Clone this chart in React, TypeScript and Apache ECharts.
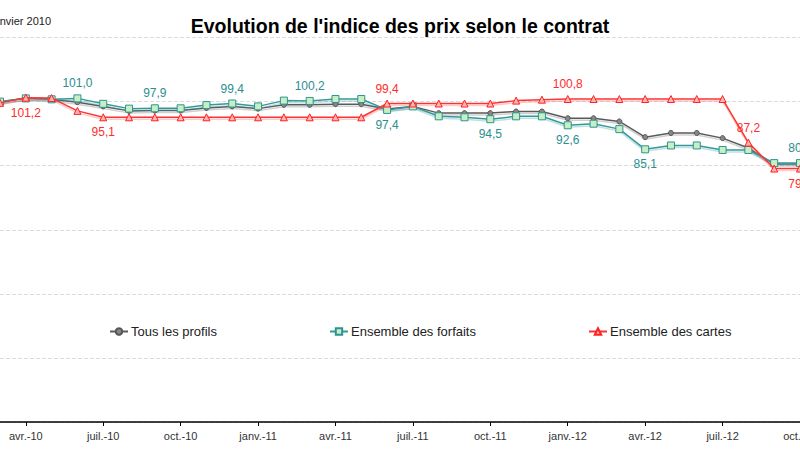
import React, { useEffect, useRef } from "react";
import * as echarts from "echarts";

const categories = [
  "mars-10", "avr.-10", "mai-10", "juin-10", "juil.-10", "août-10", "sept.-10", "oct.-10", "nov.-10", "déc.-10",
  "janv.-11", "févr.-11", "mars-11", "avr.-11", "mai-11", "juin-11", "juil.-11", "août-11", "sept.-11", "oct.-11", "nov.-11", "déc.-11",
  "janv.-12", "févr.-12", "mars-12", "avr.-12", "mai-12", "juin-12", "juil.-12", "août-12", "sept.-12", "oct.-12",
];

const tousLesProfils = [
  99.9, 101.1, 100.7, 99.8, 98.5, 97.1, 97.2, 97.2, 98.0, 98.5,
  97.8, 99.0, 99.0, 99.2, 99.2, 97.7, 98.5, 96.4, 96.4, 96.4, 96.9, 96.9,
  94.8, 94.8, 93.8, 88.9, 90.2, 90.2, 88.6, 85.5, 80.5, 80.5,
];

const forfaits = [
  100.0, 101.0, 100.7, 101.0, 99.3, 97.8, 97.9, 97.9, 98.9, 99.4,
  98.5, 100.3, 100.2, 100.8, 100.8, 97.4, 98.5, 95.4, 95.1, 94.5, 95.4, 95.4,
  92.6, 93.1, 91.4, 85.1, 86.3, 86.3, 84.9, 84.9, 80.8, 80.8,
];

const cartes = [
  99.6, 101.2, 101.1, 97.1, 95.1, 95.1, 95.1, 95.1, 95.1, 95.1,
  95.1, 95.1, 95.1, 95.1, 95.1, 99.4, 99.4, 99.4, 99.4, 99.4, 100.3, 100.6,
  100.8, 100.8, 100.8, 100.8, 100.8, 100.8, 100.8, 87.2, 79.1, 79.1,
];

const forfaitsLabelIdx = [3, 6, 9, 12, 15, 19, 22, 25, 31];
const cartesLabelIdx = [1, 4, 15, 22, 29, 31];

const seriesNames = ["Tous les profils", "Ensemble des forfaits", "Ensemble des cartes"];
const shownMonths = ["janv.", "avr.", "juil.", "oct."];

const fmt = (v: number) => v.toFixed(1).replace(".", ",");

export default function App() {
  const ref = useRef<HTMLDivElement>(null);

  useEffect(() => {
    if (!ref.current) return;
    const chart = echarts.init(ref.current, null, { renderer: "svg" });

    const isShown = (i: number) => shownMonths.some((m) => categories[i].startsWith(m));

    const tealBelow = [15, 19, 22, 25];
    const redBelow = [1, 4, 31];
    const font = "Liberation Sans, Arial, sans-serif";

    const tealData = forfaits.map((v, i) =>
      forfaitsLabelIdx.includes(i)
        ? {
            value: v,
            label: {
              show: true,
              position: tealBelow.includes(i) ? "bottom" : "top",
              distance: 5,
              formatter: () => fmt(v),
              color: "#2a8e8e",
              fontSize: 12,
              fontFamily: font,
            },
          }
        : v
    );
    const redData = cartes.map((v, i) =>
      cartesLabelIdx.includes(i)
        ? {
            value: v,
            label: {
              show: true,
              position: redBelow.includes(i) ? "bottom" : "top",
              distance: 5,
              formatter: () => fmt(v),
              color: "#ff2b2b",
              fontSize: 12,
              fontFamily: font,
            },
          }
        : v
    );

    chart.setOption({
      animation: false,
      backgroundColor: "#ffffff",
      title: {
        text: "Evolution de l'indice des prix selon le contrat",
        left: "center",
        top: 11,
        textStyle: { fontSize: 19.5, fontWeight: "bold", color: "#000", fontFamily: font },
      },
      graphic: [
        {
          type: "text",
          right: 749,
          top: 15,
          style: { text: "Base 100 en janvier 2010", fontSize: 11, fill: "#222", fontFamily: font },
        },
      ],
      legend: {
        data: seriesNames,
        left: 104,
        top: 320,
        itemGap: 112,
        itemWidth: 18,
        itemHeight: 8,
        textStyle: { fontSize: 13, color: "#222", fontFamily: font, padding: [0, 0, 0, -2] },
      },
      grid: { left: 0, right: 0, top: 37.5, bottom: 28, containLabel: false, outerBoundsMode: "none" },
      xAxis: {
        type: "category",
        data: categories,
        boundaryGap: false,
        axisLine: { lineStyle: { color: "#000", width: 1.5 } },
        axisTick: { interval: (i: number) => isShown(i), length: 4, lineStyle: { color: "#000" } },
        axisLabel: {
          interval: (i: number) => isShown(i),
          color: "#333",
          fontSize: 11,
          margin: 8,
          fontFamily: font,
        },
        splitLine: { show: false },
      },
      yAxis: {
        type: "value",
        min: 0,
        max: 120,
        interval: 20,
        axisLine: { show: false },
        axisTick: { show: false },
        axisLabel: { show: false },
        splitLine: { lineStyle: { color: "#dcdcdc", type: "dashed", width: 1 } },
      },
      series: [
        {
          name: seriesNames[0],
          type: "line",
          data: tousLesProfils,
          symbol: "circle",
          symbolSize: 5,
          color: "#666666",
          itemStyle: { color: "#888888", borderColor: "#555555", borderWidth: 1 },
          lineStyle: {
            color: "#5a5a5a",
            width: 1.5,
            shadowColor: "rgba(120,120,120,0.35)",
            shadowBlur: 0,
            shadowOffsetY: 2,
          },
          z: 2,
        },
        {
          name: seriesNames[1],
          type: "line",
          data: tealData,
          symbol: "rect",
          symbolSize: 7,
          color: "#339999",
          itemStyle: { color: "#c8efc4", borderColor: "#2e9393", borderWidth: 1 },
          lineStyle: {
            color: "#339999",
            width: 1.5,
            shadowColor: "rgba(51,153,153,0.3)",
            shadowBlur: 0,
            shadowOffsetY: 2,
          },
          z: 3,
        },
        {
          name: seriesNames[2],
          type: "line",
          data: redData,
          symbol: "triangle",
          symbolSize: 7,
          color: "#ff3333",
          itemStyle: { color: "#ffb3b3", borderColor: "#ff2020", borderWidth: 1 },
          lineStyle: {
            color: "#ff3333",
            width: 1.5,
            shadowColor: "rgba(255,80,80,0.3)",
            shadowBlur: 0,
            shadowOffsetY: 2,
          },
          z: 4,
        },
      ],
    });

    return () => chart.dispose();
  }, []);

  return (
    <div
      ref={ref}
      style={{ position: "absolute", left: 0, top: 0, width: 800, height: 450 }}
    />
  );
}
